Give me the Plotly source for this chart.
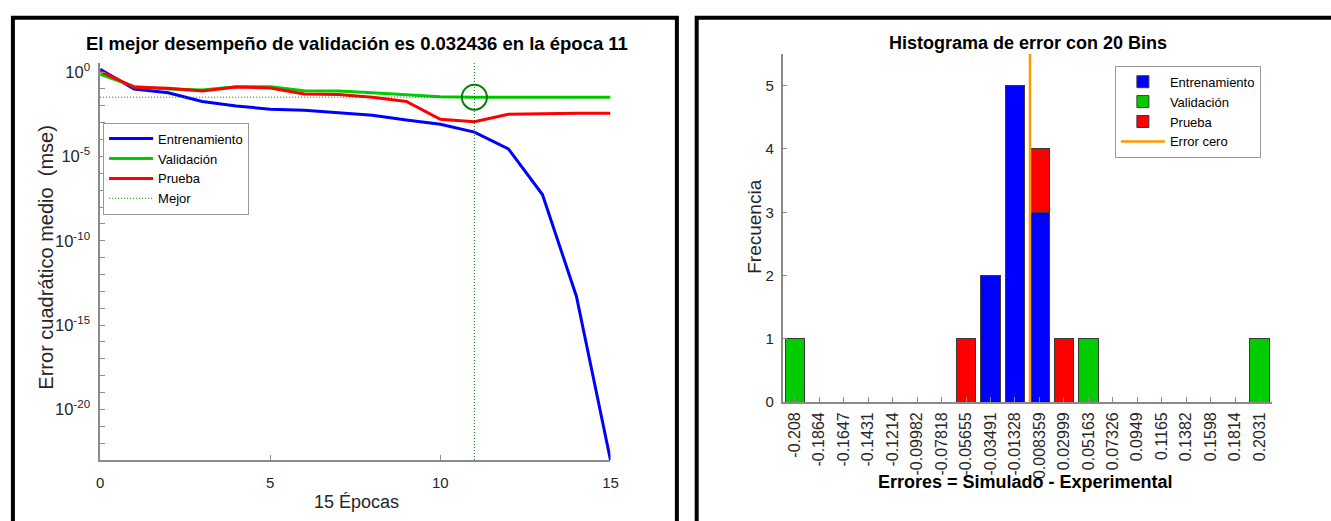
import numpy as np
import plotly.graph_objects as go

# ---------------- Performance data (mse per epoch) ----------------
epochs = list(range(16))
mse_train = [1.45, 0.10, 0.059, 0.018, 0.0098, 0.0063, 0.0055, 0.0040, 0.0028,
             0.00145, 0.00081, 0.000275, 2.8e-5, 5.5e-8, 5.0e-14, 1.0e-23]
mse_val = [0.74, 0.141, 0.100, 0.087, 0.135, 0.135, 0.079, 0.076, 0.059,
           0.047, 0.034, 0.032436, 0.0325, 0.0326, 0.0326, 0.0326]
mse_test = [1.15, 0.126, 0.110, 0.076, 0.129, 0.115, 0.051, 0.047, 0.032,
            0.018, 0.0016, 0.00115, 0.0032, 0.0035, 0.0036, 0.0036]
best_epoch = 11
best_perf = 0.032436

# ---------------- Error histogram data ----------------
bin_centers = [-0.208, -0.1864, -0.1647, -0.1431, -0.1214, -0.09982, -0.07818,
               -0.05655, -0.03491, -0.01328, 0.008359, 0.02999, 0.05163,
               0.07326, 0.0949, 0.1165, 0.1382, 0.1598, 0.1814, 0.2031]
bin_labels = ["-0.208", "-0.1864", "-0.1647", "-0.1431", "-0.1214", "-0.09982",
              "-0.07818", "-0.05655", "-0.03491", "-0.01328", "0.008359",
              "0.02999", "0.05163", "0.07326", "0.0949", "0.1165", "0.1382",
              "0.1598", "0.1814", "0.2031"]
count_train = [0, 0, 0, 0, 0, 0, 0, 0, 2, 5, 3, 0, 0, 0, 0, 0, 0, 0, 0, 0]
count_val = [1, 0, 0, 0, 0, 0, 0, 0, 0, 0, 0, 0, 1, 0, 0, 0, 0, 0, 0, 1]
count_test = [0, 0, 0, 0, 0, 0, 0, 1, 0, 0, 1, 1, 0, 0, 0, 0, 0, 0, 0, 0]
zero_error = 0.0
hist_ymax = 5.5

W, H = 1331, 521
FONT = "Liberation Sans, Arial, sans-serif"
AX_GRAY = "#8a8a8a"
TXT = "#262626"

BLUE = "#0000FF"
GREEN = "#00CC00"
RED = "#FF0000"
DKGREEN = "#008000"
ORANGE = "#FF9900"


def px(x):
    return x / W


def py(y):
    return 1 - y / H


fig = go.Figure()

# ---------------- Left: performance curves ----------------
y_lo = min(mse_train)
y_hi = 10 ** 0.55
best_dash = "1px,2px"

fig.add_trace(go.Scatter(x=epochs, y=mse_train, mode="lines", name="Entrenamiento",
                         line=dict(color=BLUE, width=3), xaxis="x", yaxis="y",
                         legend="legend"))
fig.add_trace(go.Scatter(x=epochs, y=mse_val, mode="lines", name="Validación",
                         line=dict(color=GREEN, width=3), xaxis="x", yaxis="y",
                         legend="legend"))
fig.add_trace(go.Scatter(x=epochs, y=mse_test, mode="lines", name="Prueba",
                         line=dict(color=RED, width=3), xaxis="x", yaxis="y",
                         legend="legend"))
# best-epoch guide lines
fig.add_trace(go.Scatter(x=[best_epoch, best_epoch], y=[y_lo, y_hi], mode="lines",
                         name="Mejor", line=dict(color=DKGREEN, width=1, dash=best_dash),
                         xaxis="x", yaxis="y", legend="legend"))
fig.add_trace(go.Scatter(x=[epochs[0], epochs[-1]], y=[best_perf, best_perf], mode="lines",
                         showlegend=False, line=dict(color=DKGREEN, width=1, dash=best_dash),
                         xaxis="x", yaxis="y"))
fig.add_trace(go.Scatter(x=[best_epoch], y=[best_perf], mode="markers", showlegend=False,
                         marker=dict(symbol="circle-open", size=25,
                                     line=dict(color=DKGREEN, width=2), color=DKGREEN),
                         xaxis="x", yaxis="y"))

# ---------------- Right: stacked error histogram ----------------
bw = (bin_centers[-1] - bin_centers[0]) / (len(bin_centers) - 1)
bar_w = 0.8 * bw
edge = dict(color="#3a3a3a", width=1)
fig.add_trace(go.Bar(x=bin_centers, y=count_train, name="Entrenamiento", width=bar_w,
                     marker=dict(color=BLUE, line=edge), xaxis="x2", yaxis="y2",
                     legend="legend2"))
fig.add_trace(go.Bar(x=bin_centers, y=count_val, name="Validación", width=bar_w,
                     marker=dict(color=GREEN, line=edge), xaxis="x2", yaxis="y2",
                     legend="legend2"))
fig.add_trace(go.Bar(x=bin_centers, y=count_test, name="Prueba", width=bar_w,
                     marker=dict(color=RED, line=edge), xaxis="x2", yaxis="y2",
                     legend="legend2"))
fig.add_trace(go.Scatter(x=[zero_error, zero_error], y=[0, hist_ymax], mode="lines",
                         name="Error cero", line=dict(color=ORANGE, width=2.5),
                         xaxis="x2", yaxis="y2", legend="legend2"))

# labelled ticks every 5 decades, minor ticks at each decade
lo_dec = int(np.floor(np.log10(y_lo)))
major_dec = [k for k in range(lo_dec, 1) if k % 5 == 0]
log_tickvals = [10.0 ** k for k in major_dec]
log_ticktext = [f"10<sup>{k}</sup>" for k in major_dec]
minor_vals = [10.0 ** k for k in range(lo_dec, 1) if k % 5 != 0]

axis_common = dict(showline=True, linecolor=AX_GRAY, linewidth=1.5, mirror=False,
                   showgrid=False, zeroline=False, ticks="inside", tickcolor=AX_GRAY,
                   ticklen=5, tickwidth=1)
tf = dict(family=FONT, size=15, color=TXT)

fig.update_layout(
    width=W, height=H,
    margin=dict(l=0, r=0, t=0, b=0),
    paper_bgcolor="white", plot_bgcolor="white",
    barmode="stack",
    font=dict(family=FONT, color=TXT),
    xaxis=dict(domain=[px(97), px(612)], range=[0, 15], tickvals=[0, 5, 10, 15],
               anchor="y", tickfont=tf, ticklabelstandoff=8, **axis_common),
    yaxis=dict(domain=[py(467), py(62)], type="log",
               range=[np.log10(y_lo), np.log10(y_hi)], tickvals=log_tickvals,
               ticktext=log_ticktext, anchor="x", ticklabelstandoff=5,
               tickfont=dict(family=FONT, size=16.5, color=TXT),
               minor=dict(tickvals=minor_vals, ticks="inside", ticklen=5,
                          tickcolor=AX_GRAY, showgrid=False),
               **axis_common),
    xaxis2=dict(domain=[px(785.7), px(1279.4)],
                range=[bin_centers[0] - 0.5 * bw, bin_centers[-1] + 0.5 * bw],
                tickvals=bin_centers, ticktext=bin_labels, tickangle=-90,
                anchor="y2", tickfont=dict(family=FONT, size=16, color=TXT),
                ticklabelstandoff=2, **axis_common),
    yaxis2=dict(domain=[py(408), py(53)], range=[0, hist_ymax], dtick=1,
                anchor="x2", tickfont=tf, ticklabelstandoff=4, **axis_common),
    legend=dict(x=px(100), y=py(123), xanchor="left", yanchor="top",
                bgcolor="white", bordercolor="#9a9a9a", borderwidth=1,
                font=dict(family=FONT, size=13, color="black"),
                itemwidth=44, tracegroupgap=0, traceorder="normal"),
    legend2=dict(x=px(1121), y=py(65), xanchor="left", yanchor="top",
                 bgcolor="white", bordercolor="#9a9a9a", borderwidth=1,
                 font=dict(family=FONT, size=13, color="black"),
                 itemwidth=44, tracegroupgap=0, traceorder="normal"),
    showlegend=True,
)

annotations = [
    dict(text="<b>El mejor desempeño de validación es 0.032436 en la época 11</b>",
         x=px(356), y=py(42), font=dict(size=18.5, color="black")),
    dict(text="<b>Histograma de error con 20 Bins</b>",
         x=px(1033), y=py(42), font=dict(size=18, color="black")),
    dict(text="Error cuadrático medio  (mse)", x=px(42), y=py(260), textangle=-90,
         font=dict(size=20, color=TXT)),
    dict(text="15 Épocas", x=px(356), y=py(510), font=dict(size=18, color=TXT)),
    dict(text="Frecuencia", x=px(757), y=py(229), textangle=-90,
         font=dict(size=19, color=TXT)),
    dict(text="<b>Errores = Simulado - Experimental</b>", x=px(1031), y=py(489),
         font=dict(size=18, color="black")),
]
for a in annotations:
    a.update(xref="paper", yref="paper", showarrow=False, xanchor="center",
             yanchor="middle")
    a["font"]["family"] = FONT
fig.update_layout(annotations=annotations)

# panel frames
frame = dict(type="rect", xref="paper", yref="paper", line=dict(color="black", width=4),
             fillcolor="rgba(0,0,0,0)", layer="above")
fig.update_layout(shapes=[
    dict(x0=px(9), x1=px(679), y0=-0.05, y1=py(16), **frame),
    dict(x0=px(699), x1=1.05, y0=-0.05, y1=py(16), **frame),
])

fig.write_html("out.html")
